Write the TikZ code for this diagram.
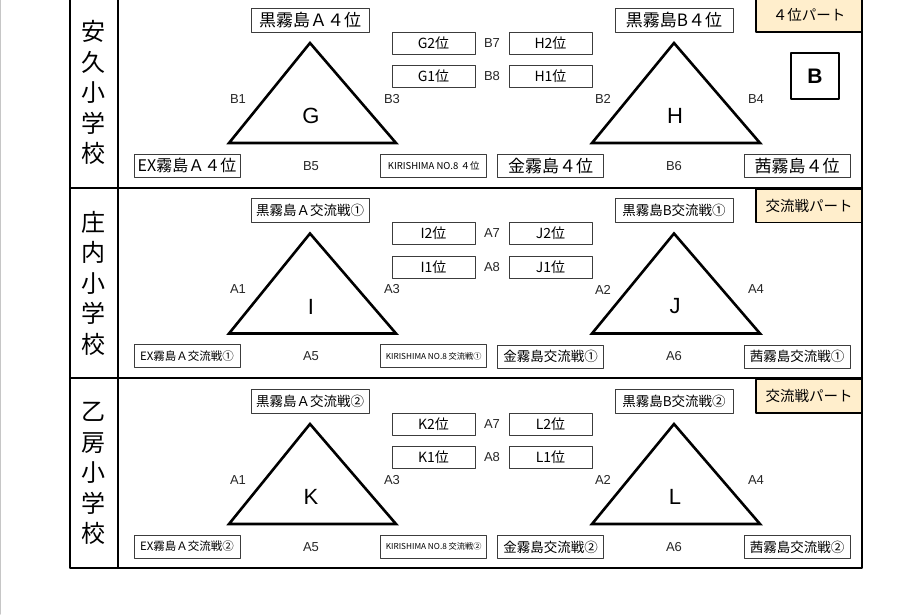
\documentclass[tikz,border=0pt]{standalone}
\usepackage{fontspec}
\setmainfont{Noto Sans CJK JP}
\newfontfamily\arialfont{Liberation Sans}
\definecolor{tagfill}{RGB}{255,238,204}
\definecolor{boxline}{RGB}{60,60,60}
\tikzset{
  teambox/.style={draw=boxline, line width=0.9pt, inner sep=0pt, minimum width=106, minimum height=23},
  topbox/.style={teambox, minimum width=118, minimum height=24},
  rankbox/.style={teambox, minimum width=83, minimum height=22, font=\fontsize{14}{14}\selectfont},
  tagbox/.style={draw, fill=tagfill, line width=1.6pt, inner sep=0pt, minimum width=106, minimum height=33.5, font=\fontsize{14.5}{14.5}\selectfont},
  gamelbl/.style={inner sep=0pt, text=black!85, font=\arialfont\fontsize{13}{13}\selectfont},
  trilbl/.style={inner sep=0pt, font=\arialfont\fontsize{22}{22}\selectfont},
  tri/.style={line width=2.6pt, line join=miter}
}
\begin{document}
\begin{tikzpicture}[x=1pt, y=-1pt, line join=round, line cap=round]
	\useasboundingbox (0,0) rectangle (908,614);
	\draw[gray!45, line width=1pt] (0.5,0)--(0.5,614);
	% one block per school
	\foreach \k/\sa/\sb/\ta/\tb/\m/\suf/\tag/\fa/\fb/\fc in {
	  0/安/久/G/H/B/４位/４位パート/17/16/9.5,
	  1/庄/内/I/J/A/交流戦①/交流戦パート/13.5/11.5/8.2,
	  2/乙/房/K/L/A/交流戦②/交流戦パート/13.5/11.5/8.2}{
	\begin{scope}[shift={(0,190.5*\k)}]
		\node[tagbox] (tag\k) at (809,15.25) {\tag};
		\node[align=center, inner sep=0pt, font=\fontsize{24}{30.5}\selectfont] (school\k) at (93,92.5) {\sa\\\sb\\小\\学\\校};
		% left group
		\node[topbox, font=\fontsize{\fa}{\fa}\selectfont] (topA\k) at (310,20) {黒霧島Ａ\suf};
		\draw[tri] (310,43) -- (229,143) -- (396,143) -- cycle;
		\node[trilbl] (grpA\k) at (311,116) {\ta};
		\node[gamelbl] at (238,99) {\m1};
		\node[gamelbl] at (392,99) {\m3};
		\node[gamelbl] at (311,166) {\m5};
		\node[teambox, font=\fontsize{\fb}{\fb}\selectfont] (ex\k) at (187,165.5) {EX霧島Ａ\suf};
		\node[teambox, font=\fontsize{\fc}{\fc}\selectfont] (kiri\k) at (433.7,165.5) {KIRISHIMA NO.8 \suf};
		% ranking games
		\node[rankbox] (a2\k) at (433.5,43) {\ta2位};
		\node[rankbox] (a1\k) at (433.5,76.5) {\ta1位};
		\node[rankbox] (b2\k) at (550.5,43) {\tb2位};
		\node[rankbox] (b1\k) at (550.5,76.5) {\tb1位};
		\node[gamelbl] at (492,43) {\m7};
		\node[gamelbl] at (492,76.5) {\m8};
		% right group
		\node[topbox, font=\fontsize{\fa}{\fa}\selectfont] (topB\k) at (674,20) {黒霧島B\suf};
		\draw[tri] (674,43) -- (592,143) -- (760,143) -- cycle;
		\node[trilbl] (grpB\k) at (675,116) {\tb};
		\node[gamelbl] at (603,99) {\m2};
		\node[gamelbl] at (756,99) {\m4};
		\node[gamelbl] at (674,166) {\m6};
		\node[teambox, font=\fontsize{\fa}{\fa}\selectfont] (kin\k) at (550.5,166) {金霧島\suf};
		\node[teambox, font=\fontsize{\fa}{\fa}\selectfont] (akane\k) at (797,166) {茜霧島\suf};
	\end{scope}
	}
	\node[draw, line width=2pt, inner sep=0pt, minimum width=48, minimum height=46, font=\arialfont\bfseries\fontsize{21}{21}\selectfont] (part) at (815,76) {B};
	% frame
	\draw[line width=2pt] (70,-5)--(70,568)--(862,568)--(862,-5);
	\draw[line width=1.6pt] (118,-5)--(118,568);
	\draw[line width=2pt] (70,187.5)--(862,187.5) (70,378)--(862,378);
\end{tikzpicture}
\end{document}
